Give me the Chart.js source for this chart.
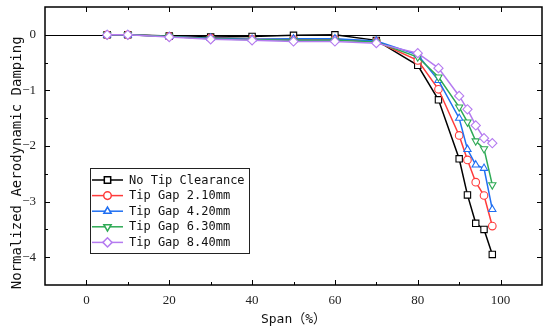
<!DOCTYPE html>
<html>
<head>
<meta charset="utf-8">
<script src="https://cdn.jsdelivr.net/npm/chart.js@4.4.0/dist/chart.umd.min.js"></script>
<style>
  html, body { margin: 0; padding: 0; background: #fff; }
</style>
</head>
<body>
<canvas id="damping-chart" width="550" height="330"></canvas>
<script>
"use strict";

// values
const spanPct = [5, 10, 20, 30, 40, 50, 60, 70, 80, 85, 90, 92, 94, 96, 98];
const noClearance = [0, 0, -0.02, -0.04, -0.03, -0.01, 0, -0.1, -0.55, -1.17, -2.23, -2.88, -3.39, -3.5, -3.95];
const gap210 = [0, 0, -0.03, -0.06, -0.08, -0.08, -0.08, -0.12, -0.46, -0.98, -1.81, -2.25, -2.65, -2.89, -3.44];
const gap420 = [0, 0, -0.03, -0.06, -0.08, -0.07, -0.07, -0.11, -0.36, -0.82, -1.5, -2.06, -2.34, -2.4, -3.14];
const gap630 = [0, 0, -0.03, -0.07, -0.09, -0.1, -0.1, -0.13, -0.4, -0.76, -1.3, -1.57, -1.91, -2.05, -2.7];
const gap840 = [0, 0, -0.04, -0.08, -0.1, -0.12, -0.12, -0.15, -0.33, -0.6, -1.1, -1.34, -1.63, -1.86, -1.95];

const seriesNames = ["No Tip Clearance", "Tip Gap 2.10mm", "Tip Gap 4.20mm", "Tip Gap 6.30mm", "Tip Gap 8.40mm"];

const xTicks = [0, 20, 40, 60, 80, 100];
const xMinorTicks = [10, 30, 50, 70, 90];
const yTicks = [0, -1, -2, -3, -4];
const yMinorTicks = [-0.5, -1.5, -2.5, -3.5];

const monoFont = "'DejaVu Sans Mono', 'Noto Sans CJK SC', monospace";
const serifFont = "'Liberation Serif', 'DejaVu Serif', serif";

const markerRadius = { rect: 4.5, circle: 3.8, triangle: 4.2, rectRot: 4.6 };

function makeSeries(label, values, color, pointStyle, rotation, order) {
  return {
    label: label,
    data: spanPct.map((x, i) => ({ x: x, y: values[i] })),
    borderColor: color,
    borderWidth: 1.5,
    pointStyle: pointStyle,
    rotation: rotation,
    pointRadius: markerRadius[pointStyle],
    pointBorderWidth: 1.1,
    pointBorderColor: color,
    pointBackgroundColor: "#fff",
    tension: 0,
    order: order,
  };
}

const dampingData = {
  datasets: [
    makeSeries(seriesNames[0], noClearance, "#000000", "rect", 0, 5),
    makeSeries(seriesNames[1], gap210, "#FF3B3B", "circle", 0, 4),
    makeSeries(seriesNames[2], gap420, "#1F6FF2", "triangle", 0, 3),
    makeSeries(seriesNames[3], gap630, "#2EAA55", "triangle", 180, 2),
    makeSeries(seriesNames[4], gap840, "#B57BF0", "rectRot", 0, 1),
  ],
};

// zero line under the data, frame + inward ticks on top
const frameAndTicks = {
  id: "frameAndTicks",
  beforeDatasetsDraw(chart) {
    const { ctx, chartArea: a, scales: { y } } = chart;
    const y0 = Math.round(y.getPixelForValue(0)) + 0.5;
    ctx.save();
    ctx.strokeStyle = "#000";
    ctx.lineWidth = 1;
    ctx.beginPath();
    ctx.moveTo(a.left, y0);
    ctx.lineTo(a.right, y0);
    ctx.stroke();
    ctx.restore();
  },
  afterDraw(chart) {
    const { ctx, chartArea: a, scales: { x, y } } = chart;
    ctx.save();
    ctx.strokeStyle = "#000";
    ctx.lineWidth = 1.5;
    ctx.strokeRect(a.left, a.top, a.right - a.left, a.bottom - a.top);
    ctx.lineWidth = 1;
    ctx.beginPath();
    const xt = (v, len) => {
      const px = Math.round(x.getPixelForValue(v)) + 0.5;
      ctx.moveTo(px, a.bottom); ctx.lineTo(px, a.bottom - len);
      ctx.moveTo(px, a.top); ctx.lineTo(px, a.top + len);
    };
    const yt = (v, len) => {
      const py = Math.round(y.getPixelForValue(v)) + 0.5;
      ctx.moveTo(a.left, py); ctx.lineTo(a.left + len, py);
      ctx.moveTo(a.right, py); ctx.lineTo(a.right - len, py);
    };
    xTicks.forEach(v => xt(v, 5));
    xMinorTicks.forEach(v => xt(v, 3));
    yTicks.forEach(v => yt(v, 5));
    yMinorTicks.forEach(v => yt(v, 3));
    ctx.stroke();
    ctx.restore();
  },
};

// boxed legend in the lower left of the plot
const boxLegend = {
  id: "boxLegend",
  afterDraw(chart) {
    const { ctx, chartArea: a } = chart;
    const left = a.left + 45, top = a.top + 161, w = 159, h = 85, rowH = 15.6;
    ctx.save();
    ctx.fillStyle = "#fff";
    ctx.fillRect(left, top, w, h);
    ctx.strokeStyle = "#222";
    ctx.lineWidth = 1;
    ctx.strokeRect(left + 0.5, top + 0.5, w, h);
    ctx.font = "12px " + monoFont;
    ctx.textBaseline = "middle";
    chart.data.datasets.forEach((ds, i) => {
      const cy = top + 12 + i * rowH;
      ctx.strokeStyle = ds.borderColor;
      ctx.lineWidth = 1.5;
      ctx.beginPath();
      ctx.moveTo(left + 2, cy);
      ctx.lineTo(left + 33, cy);
      ctx.stroke();
      ctx.fillStyle = "#fff";
      Chart.helpers.drawPoint(ctx, {
        pointStyle: ds.pointStyle,
        rotation: ds.rotation,
        radius: ds.pointRadius,
        borderWidth: 1.1,
      }, left + 17.5, cy);
      ctx.fillStyle = "#111";
      ctx.fillText(ds.label, left + 39, cy + 0.5);
    });
    ctx.restore();
  },
};

function renderChart(canvasId, chartData) {
  const ctx = document.getElementById(canvasId).getContext("2d");
  return new Chart(ctx, {
    type: "line",
    data: chartData,
    plugins: [frameAndTicks, boxLegend],
    options: {
      responsive: false,
      animation: false,
      devicePixelRatio: 1,
      layout: { padding: { top: 7, right: 8, left: 0, bottom: 0 } },
      plugins: {
        legend: { display: false },
        tooltip: { enabled: false },
      },
      scales: {
        x: {
          type: "linear",
          min: -10,
          max: 110,
          afterBuildTicks: s => { s.ticks = xTicks.map(v => ({ value: v })); },
          afterFit: s => { s.height = 45; s.paddingLeft = 0; s.paddingRight = 0; },
          grid: { display: false, drawTicks: false },
          border: { display: false },
          ticks: {
            font: { family: serifFont, size: 13 },
            color: "#222",
            padding: 8,
            maxRotation: 0,
            callback: v => String(v),
          },
          title: {
            display: true,
            text: "Span（%）",
            font: { family: monoFont, size: 13 },
            color: "#111",
            padding: { top: 0, bottom: 3 },
          },
        },
        y: {
          min: -4.5,
          max: 0.5,
          afterBuildTicks: s => { s.ticks = yTicks.map(v => ({ value: v })); },
          afterFit: s => { s.width = 45; s.paddingTop = 0; s.paddingBottom = 0; },
          grid: { display: false, drawTicks: false },
          border: { display: false },
          ticks: {
            font: { family: serifFont, size: 13 },
            color: "#222",
            padding: 9,
            callback: v => (v < 0 ? "\u2212" + Math.abs(v) : String(v)),
          },
          title: {
            display: true,
            text: "Normalized Aerodynamic Damping    ",
            font: { family: monoFont, size: 14 },
            color: "#111",
            padding: { top: 9, bottom: 0 },
          },
        },
      },
    },
  });
}

const dampingChart = renderChart("damping-chart", dampingData);
</script>
</body>
</html>
